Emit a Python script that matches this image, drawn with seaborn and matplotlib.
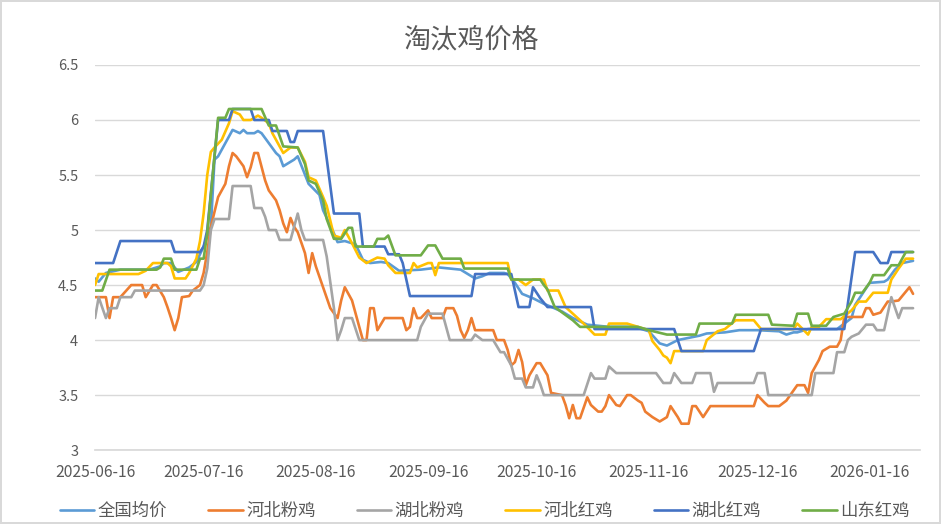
import numpy as np
import pandas as pd
import matplotlib
matplotlib.use("Agg")
import matplotlib.pyplot as plt
import matplotlib.dates as mdates
import seaborn as sns

# day offsets counted from 2025-06-16
start = pd.Timestamp("2025-06-16")

national_days = [0, 1, 3, 7, 15, 18, 19, 21, 23, 26, 28, 30, 32, 33, 34, 36, 38, 40, 41, 42, 44, 45, 46, 50, 51, 52, 55, 56,
                 59, 62, 63, 66, 67, 69, 72, 74, 76, 79, 81, 84, 90, 95, 101, 105, 107, 109, 113, 114, 116, 118, 121, 124,
                 129, 132, 136, 142, 147, 150, 153, 156, 158, 161, 164, 167, 169, 174, 178, 183, 189, 191, 193, 194, 197,
                 205, 209, 210, 212, 214, 218, 219, 221, 223, 226]
national_vals = [4.56, 4.53, 4.61, 4.64, 4.64, 4.67, 4.70, 4.70, 4.62, 4.66, 4.71, 4.85, 5.03, 5.64, 5.67, 5.79, 5.91, 5.88,
                 5.91, 5.88, 5.88, 5.90, 5.88, 5.70, 5.67, 5.58, 5.64, 5.67, 5.42, 5.32, 5.18, 4.97, 4.89, 4.90, 4.87, 4.73,
                 4.70, 4.71, 4.70, 4.63, 4.64, 4.66, 4.64, 4.56, 4.58, 4.61, 4.61, 4.60, 4.52, 4.42, 4.38, 4.33, 4.26, 4.20,
                 4.14, 4.12, 4.12, 4.11, 4.08, 3.97, 3.95, 4.00, 4.02, 4.04, 4.06, 4.07, 4.09, 4.09, 4.08, 4.05, 4.07, 4.07,
                 4.10, 4.10, 4.20, 4.32, 4.42, 4.52, 4.53, 4.55, 4.64, 4.70, 4.72]

hebei_pink_days = [0, 3, 4, 5, 7, 10, 13, 14, 16, 17, 19, 20, 21, 22, 23, 24, 26, 27, 29, 30, 31, 32, 34, 36, 37, 38, 39,
                   41, 42, 43, 44, 45, 47, 48, 50, 51, 52, 53, 54, 55, 56, 58, 59, 60, 61, 63, 65, 67, 68, 69, 71, 72, 73,
                   74, 75, 76, 77, 78, 80, 85, 86, 87, 88, 89, 90, 92, 93, 96, 97, 99, 100, 101, 102, 103, 104, 105, 110,
                   111, 113, 114, 115, 116, 117, 118, 119, 120, 122, 123, 125, 126, 129, 130, 131, 132, 133, 134, 136,
                   137, 139, 140, 141, 142, 144, 145, 147, 148, 150, 151, 152, 154, 156, 158, 159, 161, 162, 164, 165, 166,
                   168, 170, 182, 183, 185, 186, 189, 191, 194, 196, 197, 198, 200, 201, 203, 205, 206, 207, 212, 213,
                   214, 215, 217, 219, 220, 222, 225, 226]
hebei_pink_vals = [4.39, 4.39, 4.20, 4.39, 4.39, 4.50, 4.50, 4.39, 4.50, 4.50, 4.39, 4.30, 4.20, 4.09, 4.20, 4.39, 4.40,
                   4.45, 4.50, 4.61, 4.80, 5.03, 5.30, 5.42, 5.58, 5.70, 5.67, 5.58, 5.48, 5.57, 5.70, 5.70, 5.45, 5.36,
                   5.27, 5.18, 5.06, 4.98, 5.11, 5.03, 4.98, 4.79, 4.61, 4.79, 4.67, 4.48, 4.29, 4.20, 4.36, 4.48, 4.36,
                   4.24, 4.12, 4.00, 4.00, 4.29, 4.29, 4.09, 4.20, 4.20, 4.09, 4.12, 4.29, 4.20, 4.20, 4.27, 4.20, 4.20,
                   4.29, 4.29, 4.22, 4.09, 4.02, 4.09, 4.20, 4.09, 4.09, 4.00, 4.00, 3.91, 3.77, 3.80, 3.91, 3.80, 3.59,
                   3.68, 3.79, 3.79, 3.68, 3.52, 3.50, 3.41, 3.29, 3.41, 3.29, 3.29, 3.48, 3.41, 3.35, 3.35, 3.40, 3.50,
                   3.41, 3.40, 3.50, 3.50, 3.45, 3.43, 3.35, 3.30, 3.26, 3.30, 3.40, 3.30, 3.24, 3.24, 3.40, 3.40, 3.30,
                   3.40, 3.40, 3.50, 3.43, 3.40, 3.40, 3.45, 3.59, 3.59, 3.52, 3.70, 3.82, 3.90, 3.94, 3.94, 4.00,
                   4.21, 4.21, 4.29, 4.29, 4.23, 4.25, 4.35, 4.35, 4.36, 4.48, 4.42]

hubei_pink_days = [0, 1, 3, 4, 6, 7, 10, 11, 29, 30, 31, 32, 33, 37, 38, 43, 44, 46, 47, 48, 50, 51, 54, 55, 56, 57, 58,
                   63, 64, 66, 67, 68, 69, 71, 73, 89, 90, 92, 96, 98, 104, 105, 107, 110, 112, 113, 115, 116, 118, 119,
                   121, 122, 123, 124, 135, 137, 138, 141, 142, 144, 155, 157, 159, 160, 162, 165, 166, 170, 171, 172,
                   182, 183, 185, 186, 198, 199, 204, 205, 207, 208, 209, 211, 213, 215, 216, 218, 220, 222, 223, 226]
hubei_pink_vals = [4.20, 4.39, 4.20, 4.29, 4.29, 4.39, 4.39, 4.45, 4.45, 4.50, 4.65, 5.00, 5.10, 5.10, 5.40, 5.40, 5.20,
                   5.20, 5.12, 5.00, 5.00, 4.91, 4.91, 5.03, 5.15, 5.00, 4.91, 4.91, 4.76, 4.29, 4.00, 4.09, 4.20, 4.20,
                   4.00, 4.00, 4.12, 4.24, 4.24, 4.00, 4.00, 4.05, 4.00, 4.00, 3.89, 3.89, 3.77, 3.65, 3.65, 3.57, 3.57,
                   3.68, 3.60, 3.50, 3.50, 3.70, 3.65, 3.65, 3.76, 3.70, 3.70, 3.61, 3.61, 3.70, 3.61, 3.61, 3.70, 3.70,
                   3.53, 3.61, 3.61, 3.70, 3.70, 3.50, 3.50, 3.70, 3.70, 3.89, 3.89, 4.00, 4.03, 4.06, 4.14, 4.14, 4.09,
                   4.09, 4.39, 4.20, 4.29, 4.29]

hebei_red_days = [0, 1, 12, 14, 16, 20, 21, 22, 25, 26, 28, 29, 30, 31, 32, 33, 35, 37, 38, 40, 41, 43, 45, 46, 48, 49, 50,
                  52, 54, 56, 58, 59, 61, 63, 64, 66, 68, 69, 71, 73, 75, 78, 80, 81, 83, 87, 88, 89, 92, 93, 94, 95,
                  114, 115, 117, 119, 121, 124, 125, 128, 130, 135, 138, 141, 142, 147, 150, 153, 154, 156, 157, 158, 159,
                  160, 168, 169, 172, 174, 177, 182, 184, 193, 194, 197, 198, 200, 202, 206, 209, 211, 213, 215, 219, 220,
                  222, 224, 226]
hebei_red_vals = [4.50, 4.60, 4.60, 4.63, 4.70, 4.70, 4.67, 4.56, 4.56, 4.61, 4.74, 4.90, 5.15, 5.50, 5.71, 5.75, 5.82,
                  5.97, 6.08, 6.05, 6.00, 6.00, 6.04, 6.02, 5.97, 5.88, 5.82, 5.70, 5.75, 5.75, 5.62, 5.48, 5.45, 5.30,
                  5.22, 4.95, 4.93, 5.00, 4.88, 4.75, 4.70, 4.75, 4.74, 4.68, 4.61, 4.61, 4.70, 4.66, 4.70, 4.70, 4.59,
                  4.70, 4.70, 4.55, 4.55, 4.50, 4.55, 4.55, 4.45, 4.45, 4.30, 4.15, 4.05, 4.05, 4.15, 4.15, 4.12, 4.09,
                  3.99, 3.91, 3.86, 3.84, 3.79, 3.90, 3.90, 4.00, 4.08, 4.10, 4.18, 4.18, 4.10, 4.10, 4.15, 4.05, 4.12,
                  4.12, 4.19, 4.19, 4.27, 4.35, 4.35, 4.43, 4.43, 4.55, 4.65, 4.74, 4.74]

hubei_red_days = [0, 5, 7, 21, 22, 29, 30, 31, 34, 37, 38, 43, 44, 48, 49, 53, 54, 55, 56, 63, 66, 73, 74, 80, 81, 84, 85,
                  87, 104, 105, 115, 117, 120, 121, 123, 125, 137, 138, 160, 162, 182, 184, 207, 210, 215, 217, 219, 220,
                  226]
hubei_red_vals = [4.70, 4.70, 4.90, 4.90, 4.80, 4.80, 4.85, 5.00, 6.00, 6.00, 6.10, 6.10, 6.00, 6.00, 5.90, 5.90, 5.80,
                  5.80, 5.90, 5.90, 5.15, 5.15, 4.85, 4.85, 4.78, 4.78, 4.70, 4.40, 4.40, 4.60, 4.60, 4.30, 4.30, 4.48,
                  4.38, 4.30, 4.30, 4.10, 4.10, 3.90, 3.90, 4.10, 4.10, 4.80, 4.80, 4.70, 4.70, 4.80, 4.80]

shandong_red_days = [0, 2, 4, 17, 18, 19, 21, 22, 28, 29, 30, 31, 34, 36, 37, 46, 48, 50, 52, 56, 58, 59, 61, 63, 64, 66,
                     68, 70, 71, 72, 77, 78, 80, 81, 83, 90, 92, 94, 96, 101, 102, 114, 115, 123, 124, 125, 127, 132, 134,
                     150, 153, 158, 166, 167, 176, 177, 186, 187, 193, 194, 197, 198, 202, 204, 207, 209, 210, 212, 214,
                     215, 218, 220, 222, 224, 226]
shandong_red_vals = [4.45, 4.45, 4.64, 4.64, 4.66, 4.74, 4.74, 4.64, 4.64, 4.74, 4.74, 4.97, 6.02, 6.02, 6.10, 6.10, 5.95,
                     5.95, 5.76, 5.75, 5.60, 5.45, 5.42, 5.27, 5.10, 4.92, 4.92, 5.02, 5.02, 4.85, 4.85, 4.92, 4.92, 4.95,
                     4.77, 4.77, 4.86, 4.86, 4.74, 4.74, 4.65, 4.65, 4.55, 4.55, 4.50, 4.46, 4.30, 4.18, 4.12, 4.12, 4.09,
                     4.05, 4.05, 4.15, 4.15, 4.23, 4.23, 4.14, 4.13, 4.24, 4.24, 4.13, 4.13, 4.21, 4.24, 4.35, 4.43, 4.43,
                     4.52, 4.59, 4.59, 4.68, 4.68, 4.80, 4.80]

series_names = ["全国均价", "河北粉鸡", "湖北粉鸡", "河北红鸡", "湖北红鸡", "山东红鸡"]
series_data = [(national_days, national_vals), (hebei_pink_days, hebei_pink_vals), (hubei_pink_days, hubei_pink_vals),
               (hebei_red_days, hebei_red_vals), (hubei_red_days, hubei_red_vals), (shandong_red_days, shandong_red_vals)]
colors = ["#5B9BD5", "#ED7D31", "#A5A5A5", "#FFC000", "#4472C4", "#70AD47"]

tick_dates = ["2025-06-16", "2025-07-16", "2025-08-16", "2025-09-16", "2025-10-16", "2025-11-16", "2025-12-16", "2026-01-16"]
y_ticks = [3, 3.5, 4, 4.5, 5, 5.5, 6, 6.5]

rows = []
for name, (days, vals) in zip(series_names, series_data):
    if len(days) != len(vals):
        print(f"Warning: {name} has {len(days)} days but {len(vals)} values")
    for d, v in zip(days, vals):
        rows.append({"date": start + pd.Timedelta(days=d), "price": v, "series": name})
df = pd.DataFrame(rows)

sns.set_theme(style="white")
plt.rcParams["font.family"] = ["Noto Sans CJK SC", "DejaVu Sans"]
text_color = "#595959"

fig = plt.figure(figsize=(9.41, 5.24), dpi=100)
ax = fig.add_axes([0.101, 0.141, 0.877, 0.735])

sns.lineplot(data=df, x="date", y="price", hue="series", hue_order=series_names, palette=colors,
             estimator=None, sort=False, linewidth=1.9, ax=ax)

ax.set_ylim(3, 6.5)
ax.set_yticks(y_ticks)
ax.set_yticklabels([f"{t:g}" for t in y_ticks])
ax.set_xlim(start, start + pd.Timedelta(days=228))
ax.set_xticks([pd.Timestamp(t) for t in tick_dates])
ax.xaxis.set_major_formatter(mdates.DateFormatter("%Y-%m-%d"))
ax.grid(axis="y", color="#D9D9D9", linewidth=1)
ax.set_axisbelow(True)
for s in ["left", "right", "top"]:
    ax.spines[s].set_visible(False)
ax.spines["bottom"].set_color("#D9D9D9")
ax.tick_params(axis="x", colors=text_color, labelsize=11.3, length=5, width=1, color="#D9D9D9", pad=5)
ax.tick_params(axis="y", colors=text_color, labelsize=10.5, length=0, pad=12)
ax.set_xlabel("")
ax.set_ylabel("")

handles, labels = ax.get_legend_handles_labels()
ax.get_legend().remove()
fig.legend(handles, labels, loc="lower center", bbox_to_anchor=(0.515, -0.022), ncol=6, frameon=False,
           fontsize=12.5, handlelength=2.0, handletextpad=0.2, columnspacing=2.35, labelcolor=text_color)

fig.text(0.5, 0.924, "淘汰鸡价格", ha="center", va="center", fontsize=19.5, color=text_color)
fig.patch.set_edgecolor("#D9D9D9")
fig.patch.set_linewidth(1.5)

fig.savefig("out.png", dpi=100)
